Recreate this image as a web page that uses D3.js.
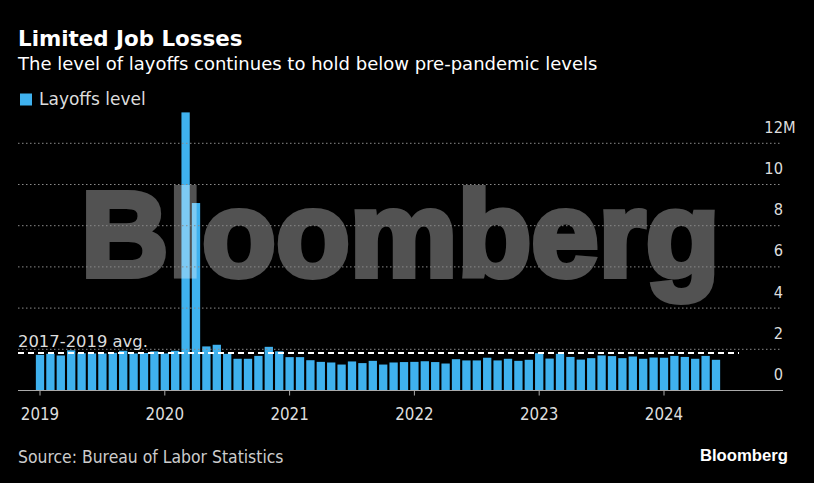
<!DOCTYPE html>
<html>
<head>
<meta charset="utf-8">
<script src="https://cdn.jsdelivr.net/npm/d3@7"></script>
<style>
  body { margin: 0; background: #000; }
  svg { display: block; }
  text { font-family: "DejaVu Sans", sans-serif; }
  .cond { font-family: "DejaVu Sans Condensed", "DejaVu Sans", sans-serif; font-stretch: condensed; }
</style>
</head>
<body>
<script>
// layoffs level, millions, monthly from Jan 2019
var startYear = 2019;
var layoffs = [
  1.73, 1.78, 1.70, 1.95, 1.81, 1.80, 1.80, 1.83, 1.93, 1.80, 1.82, 1.90,
  1.80, 1.93, 13.5, 9.1, 2.14, 2.22, 1.78, 1.54, 1.54, 1.68, 2.12, 1.90,
  1.62, 1.62, 1.47, 1.39, 1.36, 1.26, 1.41, 1.33, 1.44, 1.26, 1.36, 1.38,
  1.39, 1.42, 1.38, 1.31, 1.52, 1.46, 1.46, 1.59, 1.46, 1.54, 1.44, 1.49,
  1.81, 1.55, 1.78, 1.63, 1.50, 1.57, 1.70, 1.67, 1.57, 1.65, 1.54, 1.60,
  1.59, 1.68, 1.63, 1.54, 1.68, 1.49
];
var yearLabels = ["2019", "2020", "2021", "2022", "2023", "2024"];
var yTicks = [0, 2, 4, 6, 8, 10, 12];
var avg2017_2019 = 1.82;

var W = 814, H = 483;
var barColor = "#3fb1ee";

var svg = d3.select("body").append("svg")
    .attr("width", W)
    .attr("height", H);

// month index scale: Jan 2019 -> 0
var x = d3.scaleLinear().domain([0, 60]).range([40, 664]);
var y = d3.scaleLinear().domain([0, 12]).range([390.5, 143.3]);
var bw = 8.3;
var left = 18, right = 783;

// title block
svg.append("text")
    .attr("x", 18).attr("y", 46)
    .style("font-size", "21.4px").style("font-weight", "bold")
    .attr("fill", "#fff")
    .text("Limited Job Losses");

svg.append("text")
    .attr("x", 18).attr("y", 70)
    .style("font-size", "18px")
    .attr("fill", "#fff")
    .text("The level of layoffs continues to hold below pre-pandemic levels");

svg.append("rect")
    .attr("x", 20).attr("y", 93.5)
    .attr("width", 12).attr("height", 12)
    .attr("fill", barColor);

svg.append("text")
    .attr("x", 39).attr("y", 104.5)
    .style("font-size", "17px")
    .attr("fill", "#ddd")
    .text("Layoffs level");

// bars
svg.selectAll(".bar")
    .data(layoffs)
    .enter().append("rect")
    .attr("class", "bar")
    .attr("x", function(d, i) { return x(i) - bw / 2; })
    .attr("y", function(d) { return y(d); })
    .attr("width", bw)
    .attr("height", function(d) { return y(0) - y(d); })
    .attr("fill", barColor);

// watermark, over the bars
svg.append("g")
    .attr("opacity", 0.32)
  .append("text")
    .attr("x", 81).attr("y", 276)
    .style("font-family", "'Liberation Sans', Arial, sans-serif")
    .style("font-size", "121px")
    .style("font-weight", "bold")
    .attr("fill", "#fff")
    .attr("stroke", "#fff")
    .attr("stroke-width", 6)
    .text("Bloomberg");

// gridlines, drawn over the watermark
svg.selectAll(".grid")
    .data(yTicks.filter(function(d) { return d > 0; }))
    .enter().append("line")
    .attr("class", "grid")
    .attr("x1", left).attr("x2", right - 1)
    .attr("y1", function(d) { return y(d); })
    .attr("y2", function(d) { return y(d); })
    .attr("stroke", "#8a8a8a")
    .attr("stroke-width", 1)
    .attr("stroke-dasharray", "1.5,2.5");

// y labels sit above their gridline
svg.selectAll(".ylab")
    .data(yTicks)
    .enter().append("text")
    .attr("class", "ylab cond")
    .attr("x", right)
    .attr("y", function(d) { return y(d) - 10.5; })
    .attr("text-anchor", "end")
    .style("font-size", "16.3px")
    .attr("fill", "#ddd")
    .text(function(d) { return d; });

svg.append("text")
    .attr("class", "cond")
    .attr("x", right).attr("y", y(12) - 10.5)
    .style("font-size", "16.3px")
    .attr("fill", "#ddd")
    .text("M");

// x axis
svg.append("line")
    .attr("x1", left).attr("x2", right)
    .attr("y1", y(0)).attr("y2", y(0))
    .attr("stroke", "#aaa")
    .attr("stroke-width", 1);

svg.selectAll(".xtick")
    .data(yearLabels)
    .enter().append("line")
    .attr("class", "xtick")
    .attr("x1", function(d, i) { return x(i * 12); })
    .attr("x2", function(d, i) { return x(i * 12); })
    .attr("y1", y(0)).attr("y2", y(0) + 5)
    .attr("stroke", "#aaa");

svg.selectAll(".xlab")
    .data(yearLabels)
    .enter().append("text")
    .attr("class", "xlab cond")
    .attr("x", function(d, i) { return x(i * 12); })
    .attr("y", 420)
    .attr("text-anchor", "middle")
    .style("font-size", "16.8px")
    .attr("fill", "#ddd")
    .text(function(d) { return d; });

// 2017-2019 average reference
svg.append("line")
    .attr("x1", left).attr("x2", 739)
    .attr("y1", y(avg2017_2019)).attr("y2", y(avg2017_2019))
    .attr("stroke", "#fff")
    .attr("stroke-width", 2)
    .attr("stroke-dasharray", "6,4");

svg.append("text")
    .attr("x", 18).attr("y", 346.7)
    .style("font-size", "16.4px")
    .attr("fill", "#ddd")
    .text("2017-2019 avg.");

// footer
svg.append("text")
    .attr("class", "cond")
    .attr("x", 18).attr("y", 462.5)
    .style("font-size", "17.4px")
    .attr("fill", "#ccc")
    .text("Source: Bureau of Labor Statistics");

svg.append("text")
    .attr("x", 788).attr("y", 460.7)
    .attr("text-anchor", "end")
    .style("font-family", "'Liberation Sans', Arial, sans-serif")
    .style("font-size", "16.7px")
    .style("font-weight", "bold")
    .attr("fill", "#fff")
    .text("Bloomberg");
</script>
</body>
</html>
